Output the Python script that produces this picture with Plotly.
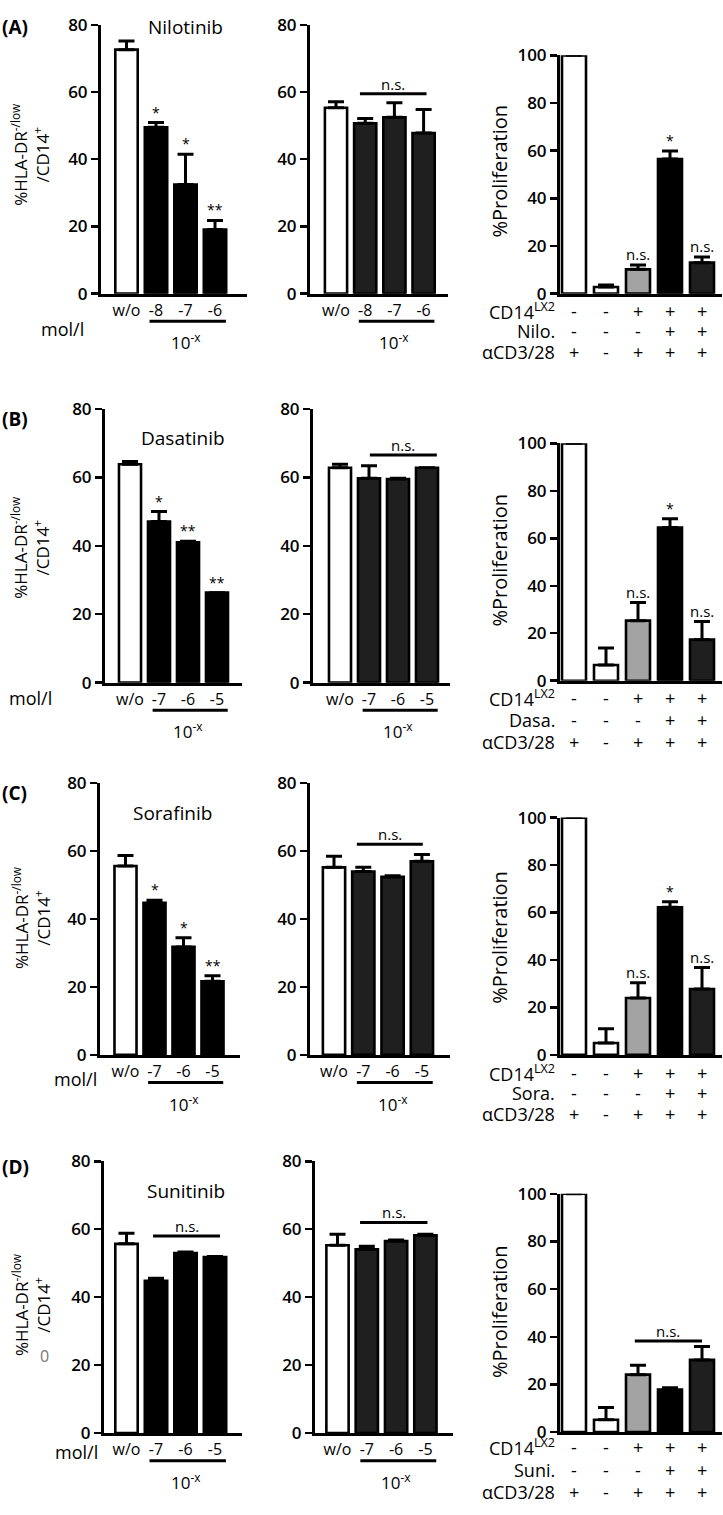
import plotly.graph_objects as go

W, H = 723, 1515
FONT = "Open Sans"

# ---------------- data ----------------
conc_labels_A = ["w/o", "-8", "-7", "-6"]
conc_labels_BCD = ["w/o", "-7", "-6", "-5"]
drug_names = ["Nilotinib", "Dasatinib", "Sorafinib", "Sunitinib"]
drug_abbr = ["Nilo.", "Dasa.", "Sora.", "Suni."]
panel_letters = ["(A)", "(B)", "(C)", "(D)"]

# left column: %HLA-DR-/low of CD14+ (drug titration)
nilo_left = [72.6, 49.5, 32.5, 19.1]
nilo_left_err = [2.6, 1.4, 9.0, 2.7]
dasa_left = [63.8, 47.1, 41.0, 26.3]
dasa_left_err = [0.8, 2.9, 0.3, 0.0]
sora_left = [55.6, 44.8, 31.8, 21.7]
sora_left_err = [3.1, 0.7, 2.7, 1.6]
suni_left = [55.7, 44.8, 53.0, 51.8]
suni_left_err = [3.1, 0.8, 0.3, 0.2]

# middle column
nilo_mid = [55.3, 50.7, 52.5, 47.8]
nilo_mid_err = [1.8, 1.4, 4.3, 7.0]
dasa_mid = [62.8, 59.7, 59.5, 62.8]
dasa_mid_err = [1.0, 3.7, 0.2, 0.0]
sora_mid = [55.2, 54.0, 52.4, 57.0]
sora_mid_err = [3.3, 1.2, 0.3, 2.0]
suni_mid = [55.3, 54.1, 56.5, 58.2]
suni_mid_err = [3.2, 0.9, 0.3, 0.3]

# right column: %Proliferation
nilo_prolif = [100, 2.8, 10.2, 56.5, 13.0]
nilo_prolif_err = [0, 0.8, 1.8, 3.4, 2.4]
dasa_prolif = [100, 6.6, 25.3, 64.5, 17.3]
dasa_prolif_err = [0, 7.2, 7.6, 3.7, 7.6]
sora_prolif = [100, 5.0, 24.0, 62.2, 27.8]
sora_prolif_err = [0, 6.0, 6.4, 2.3, 9.0]
suni_prolif = [100, 5.2, 24.1, 17.9, 30.3]
suni_prolif_err = [0, 5.1, 3.9, 0.7, 5.6]

# significance marks
left_sig = [["", "*", "*", "**"], ["", "*", "**", "**"], ["", "*", "*", "**"], ["", "", "", ""]]
prolif_sig = [["", "", "n.s.", "*", "n.s."], ["", "", "n.s.", "*", "n.s."],
              ["", "", "n.s.", "*", "n.s."], ["", "", "", "", ""]]
mid_ns_level = [59.5, 66.5, 62.0, 62.0]
suni_left_ns_level = 58.0
suni_prolif_ns_level = 38.2

# treatment matrix (right column)
cd14_signs = ["-", "-", "+", "+", "+"]
drug_signs = ["-", "-", "-", "+", "+"]
cd3_signs = ["+", "-", "+", "+", "+"]

left_means = [nilo_left, dasa_left, sora_left, suni_left]
left_errs = [nilo_left_err, dasa_left_err, sora_left_err, suni_left_err]
mid_means = [nilo_mid, dasa_mid, sora_mid, suni_mid]
mid_errs = [nilo_mid_err, dasa_mid_err, sora_mid_err, suni_mid_err]
prolif_means = [nilo_prolif, dasa_prolif, sora_prolif, suni_prolif]
prolif_errs = [nilo_prolif_err, dasa_prolif_err, sora_prolif_err, suni_prolif_err]
conc_labels = [conc_labels_A, conc_labels_BCD, conc_labels_BCD, conc_labels_BCD]

# ---------------- layout geometry (pixels) ----------------
row_top_lm = [13, 403, 783, 1167]
row_bot_lm = [286, 681, 1059, 1443]
row_top_r = [44, 438, 818, 1200]
row_bot_r = [286, 679, 1059, 1442]
left_geom = [(101, 247, 126.5, 29.5), (105, 242, 130, 29), (100, 240, 125.5, 29), (104, 242, 126.5, 29.5)]
mid_geom = [(310, 448, 336, 29.2), (313, 450, 340, 29.0), (310, 450, 334, 29.3), (315, 453, 337.5, 29.3)]
right_geom = [(560, 722, 574, 32)] * 4
mid_ns_x = [(0.82, 3.1), (1.03, 3.34), (0.78, 3.03), (0.77, 3.07)]
title_pos = [(186, 15), (183, 433), (172, 813), (186, 1197)]
letter_y = [15, 413, 793, 1173]
ytitle_c = [145, 544, 920, 1313]
prolif_title_c = [162, 557, 940, 1320]
mol_pos = [(62, 322), (30, 697), (75, 1083), (76, 1462)]
sign_rows_y = [(304, 324, 345), (697, 719, 741), (1077, 1098, 1119), (1457, 1480, 1503)]

C_WHITE = "#ffffff"
C_BLACK = "#000000"
C_DARK = "#1f1f1f"
C_GRAY = "#a3a3a3"

fig = go.Figure()
axes = {}
annotations = []
shapes = []
counter = [0]


def px2x(p):
    return p / W


def px2y(p):
    return 1 - p / H


def add_panel(geom, y_top, y_bot, ymax, yticks, means, errs, colors, labels, bar_w):
    counter[0] += 1
    k = counter[0]
    ax_x, end_x, c0, s = geom
    xr = [(ax_x - c0) / s, (end_x - c0) / s]
    xs = list(range(len(means)))
    fig.add_trace(go.Bar(
        x=xs, y=means, width=bar_w, xaxis=f"x{k}", yaxis=f"y{k}",
        marker=dict(color=colors, line=dict(color="black", width=2.6)),
        error_y=dict(type="data", symmetric=False, array=errs, arrayminus=[0] * len(errs),
                     color="black", thickness=3, width=8),
        cliponaxis=False, hoverinfo="skip",
    ))
    sfx = "" if k == 1 else str(k)
    xa = dict(
        domain=[px2x(ax_x), px2x(end_x)], anchor=f"y{k}", range=xr,
        showline=True, linewidth=3, linecolor="black", showgrid=False, zeroline=False,
        ticks="", fixedrange=True,
    )
    if labels:
        xa.update(tickvals=xs, ticktext=labels, showticklabels=True,
                  tickfont=dict(family=FONT, size=16, color="black"), ticklabelstandoff=0)
    else:
        xa.update(showticklabels=False)
    axes[f"xaxis{sfx}"] = xa
    axes[f"yaxis{sfx}"] = dict(
        domain=[px2y(y_bot), px2y(y_top)], anchor=f"x{k}", range=[0, ymax],
        showline=True, linewidth=3, linecolor="black", showgrid=False, zeroline=False,
        tickvals=yticks, ticks="outside", ticklen=7, tickwidth=2.5, tickcolor="black",
        tickfont=dict(family=FONT, size=17, color="black", weight=600), fixedrange=True,
    )
    return k, s


def ns_bracket(k, x0, x1, level):
    shapes.append(dict(type="line", xref=f"x{k}", yref=f"y{k}", x0=x0, x1=x1, y0=level, y1=level,
                       line=dict(color="black", width=3)))
    annotations.append(dict(x=(x0 + x1) / 2, y=level, xref=f"x{k}", yref=f"y{k}", text="n.s.",
                            showarrow=False, yanchor="bottom", yshift=-2,
                            font=dict(family=FONT, size=15, color="black")))


def ten_x(k, s, y_bot):
    # underline grouping the concentrations and "10^-x" caption
    shapes.append(dict(type="line", xref=f"x{k}", yref="paper", x0=0.78, x1=3.37,
                       y0=px2y(y_bot + 28), y1=px2y(y_bot + 28), line=dict(color="black", width=3)))
    annotations.append(dict(x=2, y=px2y(y_bot + 49), xref=f"x{k}", yref="paper",
                            text="10<sup>-x</sup>", showarrow=False, yanchor="middle",
                            font=dict(family=FONT, size=17, color="black")))


for r in range(4):
    # ---- left panel ----
    n = len(left_means[r])
    k, s = add_panel(left_geom[r], row_top_lm[r], row_bot_lm[r], 80, [0, 20, 40, 60, 80],
                     left_means[r], left_errs[r], [C_WHITE] + [C_BLACK] * (n - 1), conc_labels[r], 0.76)
    for i, sig in enumerate(left_sig[r]):
        if sig:
            annotations.append(dict(x=i, y=left_means[r][i] + left_errs[r][i], xref=f"x{k}", yref=f"y{k}",
                                    text=sig, showarrow=False, yanchor="bottom", yshift=-1,
                                    font=dict(family=FONT, size=14, color="black")))
    if r == 3:
        ns_bracket(k, 0.9, 3.17, suni_left_ns_level)
    ten_x(k, s, row_bot_lm[r])
    annotations.append(dict(x=px2x(title_pos[r][0]), y=px2y(title_pos[r][1]), xref="paper", yref="paper",
                            text=drug_names[r], showarrow=False, xanchor="center", yanchor="middle",
                            font=dict(family=FONT, size=19, color="black")))
    annotations.append(dict(x=0, y=px2y(letter_y[r]), xref="paper", yref="paper",
                            text=f"<b>{panel_letters[r]}</b>", showarrow=False, xanchor="left", yanchor="middle",
                            font=dict(family=FONT, size=19, color="black")))
    annotations.append(dict(x=px2x(31), y=px2y(ytitle_c[r]), xref="paper", yref="paper",
                            text="%HLA-DR<sup>-/low</sup><br>/CD14<sup>+</sup>", textangle=-90,
                            showarrow=False, xanchor="center", yanchor="middle",
                            font=dict(family=FONT, size=17, color="black")))
    annotations.append(dict(x=px2x(mol_pos[r][0]), y=px2y(mol_pos[r][1]), xref="paper", yref="paper",
                            text="mol/l", showarrow=False, xanchor="center", yanchor="middle",
                            font=dict(family=FONT, size=18, color="black")))

    # ---- middle panel ----
    n = len(mid_means[r])
    k, s = add_panel(mid_geom[r], row_top_lm[r], row_bot_lm[r], 80, [0, 20, 40, 60, 80],
                     mid_means[r], mid_errs[r], [C_WHITE] + [C_DARK] * (n - 1), conc_labels[r], 0.76)
    ns_bracket(k, mid_ns_x[r][0], mid_ns_x[r][1], mid_ns_level[r])
    ten_x(k, s, row_bot_lm[r])

    # ---- right panel ----
    k, s = add_panel(right_geom[r], row_top_r[r], row_bot_r[r], 100, [0, 20, 40, 60, 80, 100],
                     prolif_means[r], prolif_errs[r], [C_WHITE, C_WHITE, C_GRAY, C_BLACK, C_DARK], None, 0.75)
    for i, sig in enumerate(prolif_sig[r]):
        if sig:
            annotations.append(dict(x=i, y=prolif_means[r][i] + prolif_errs[r][i], xref=f"x{k}", yref=f"y{k}",
                                    text=sig, showarrow=False, yanchor="bottom", yshift=-1,
                                    font=dict(family=FONT, size=14 if sig == "*" else 15, color="black")))
    if r == 3:
        ns_bracket(k, 1.9, 4.0, suni_prolif_ns_level)
    annotations.append(dict(x=px2x(500), y=px2y(prolif_title_c[r]), xref="paper", yref="paper",
                            text="%Proliferation", textangle=-90, showarrow=False,
                            xanchor="center", yanchor="middle",
                            font=dict(family=FONT, size=20, color="black")))
    row_names = ["CD14<sup>LX2</sup>", drug_abbr[r], "αCD3/28"]
    row_signs = [cd14_signs, drug_signs, cd3_signs]
    for j in range(3):
        yy = px2y(sign_rows_y[r][j])
        annotations.append(dict(x=px2x(557), y=yy, xref="paper", yref="paper", text=row_names[j],
                                showarrow=False, xanchor="right", yanchor="middle",
                                font=dict(family=FONT, size=18, color="black")))
        for i, sg in enumerate(row_signs[j]):
            annotations.append(dict(x=i, y=yy, xref=f"x{k}", yref="paper", text=sg,
                                    showarrow=False, xanchor="center", yanchor="middle",
                                    font=dict(family=FONT, size=18, color="black")))

# stray grey "0" in panel D
annotations.append(dict(x=px2x(38), y=px2y(1378), xref="paper", yref="paper", text="0",
                        showarrow=False, font=dict(family=FONT, size=16, color="#777777")))

fig.update_layout(
    width=W, height=H, margin=dict(l=0, r=0, t=0, b=0),
    paper_bgcolor="white", plot_bgcolor="white", showlegend=False,
    font=dict(family=FONT, color="black"),
    annotations=annotations, shapes=shapes, **axes,
)

fig.write_html(
    "out.html",
    config={"displayModeBar": False, "staticPlot": True},
    post_script="document.body.style.margin='0';document.body.style.padding='0';"
                "document.body.style.overflow='hidden';",
)
